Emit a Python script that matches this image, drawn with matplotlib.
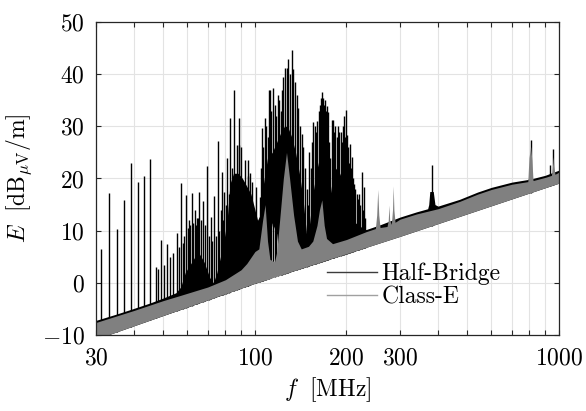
import matplotlib.pyplot as plt
import numpy as np
from matplotlib.lines import Line2D
from matplotlib.ticker import NullFormatter

plt.rcParams['font.family'] = 'serif'
plt.rcParams['font.serif'] = ['cmr10']
plt.rcParams['mathtext.fontset'] = 'cm'
plt.rcParams['axes.unicode_minus'] = True

FS = 17

# lower edge of the measured noise floor (MHz, dB)
floor_f = [30, 100, 300, 1000]
floor_db = [-10.8, -0.1, 8.9, 19.1]

# Half-Bridge: upper edge of the dense part of the trace
hb_f = [30, 35, 40, 45, 50, 55, 57, 59, 62, 65, 68, 71, 73, 75, 77, 79, 81,
        82.8, 85, 88, 91, 94, 97, 100, 102, 104, 106, 108, 110, 114, 118, 122,
        125, 128, 132, 136, 140, 144, 148, 151, 155, 159, 163, 167, 171, 175,
        179, 184, 190, 196, 202, 208, 214, 220, 226, 232, 260, 300, 340, 370,
        373, 376, 386, 391, 400, 471, 540, 600, 700, 790, 800, 812, 820,
        900, 1000]
hb_hi = [-7.2, -6.0, -4.9, -3.9, -2.9, -1.9, -0.8, 2, 4, 6, 4, 1, 0, 2, 5, 8, 12,
         19, 21, 21, 20, 18.5, 17, 14, 12, 13, 18, 21, 24, 25, 27, 29,
         30, 30, 28, 25, 21, 16, 9, 11, 17, 21, 24, 25, 21, 15,
         19, 22, 21, 19, 15, 12.5, 11.5, 11, 10.5, 10.2, 11.2, 12.6, 13.6, 14.2,
         15.0, 17.5, 17.5, 15.0, 14.7, 16.0, 17.4, 18.3, 19.3, 19.8, 20.2, 20.2, 20.0,
         20.6, 21.6]
# stretch where the Half-Bridge trace lifts off the floor
hb_lift_f = [109, 112, 116, 119, 121]
hb_lift_db = [4, 11, 12, 8, 3]

# Half-Bridge: discrete harmonic lines
hb_peak_f = [31.2, 33.0, 35.1, 37.0, 39.1, 41.2, 43.2, 45.2, 47.2, 48.1, 49.2,
             50.1, 51.3, 52.4, 53.8, 55.3, 56.4, 57.1, 58.0, 58.6, 59.2, 60.1,
             60.7, 61.3, 61.9, 62.6, 63.4, 63.9, 64.3, 64.9, 65.5, 66.4, 67.3,
             68.3, 69.4, 70.4, 71.5, 72.4, 73.3, 74.3, 75.4, 76.3, 77.3, 77.8,
             78.3, 79.3, 80.2, 81.1, 82.0, 82.9, 84.1, 85.3, 87.1, 88.3, 88.8,
             90.0, 92.7, 94.7, 95.1, 96.4, 97.6, 100.8, 103.9, 104.5, 105.5,
             106.5, 107.9, 109.0, 110.3, 111.5, 112.1, 113.3, 114.9, 116.2,
             117.5, 118.8, 120.3, 121.6, 122.8, 124.0, 125.6, 127.2, 128.8,
             130.4, 132.1, 133.7, 135.4, 137.1, 138.9, 140.6, 142.5, 144.2,
             146.0, 148.0, 149.5, 150.9, 152.5, 154.0, 155.6, 157.2, 158.7,
             160.3, 162.0, 163.6, 165.0, 166.0, 167.5, 168.8, 170.0, 171.0,
             172.2, 173.2, 174.2, 175.5, 177.0, 178.9, 180.0, 181.0, 182.5,
             184.0, 185.7, 187.5, 189.5, 191.5, 193.5, 195.0, 196.3, 198.0,
             199.3, 200.3, 202.0, 203.5, 205.0, 206.5, 208.1, 210.0, 212.0,
             214.0, 216.0, 218.0, 220.0, 222.0, 224.5, 226.0, 228.4, 230.0,
             382, 807, 934, 958]
hb_peak_db = [6.4, 17.3, 10.3, 15.9, 22.9, 19.4, 20.5, 23.7, 3.1, 2.6, 8.2,
              3.4, 7.4, 5.0, 5.8, 9.6, 6.8, 19.1, 7.6, 9.0, 16.8, 10.5,
              12.0, 11.0, 17.3, 11.5, 14.0, 11.0, 12.4, 12.5, 17.5, 12.0, 15.7,
              11.0, 22.3, 9.0, 12.7, 8.0, 16.6, 9.0, 27.2, 10.0, 14.0, 21.3,
              12.0, 17.5, 15.0, 23.9, 17.0, 31.5, 22.0, 37.0, 26.4, 26.4, 31.5,
              26.1, 23.5, 23.5, 20.4, 21.0, 19.4, 18.4, 16.5, 22.0, 29.6,
              26.0, 31.5, 30.0, 28.0, 37.0, 37.0, 33.0, 37.3, 34.0,
              32.0, 36.0, 35.0, 33.0, 37.0, 39.5, 41.1, 41.1, 43.0,
              40.0, 44.6, 41.0, 38.5, 36.0, 33.5, 30.0, 28.5, 26.0,
              22.0, 18.0, 15.0, 25.1, 22.0, 27.0, 30.9, 30.0, 29.0,
              31.0, 33.0, 34.0, 35.5, 36.6, 35.5, 34.0, 35.0, 33.0,
              33.8, 30.0, 32.8, 27.0, 24.0, 31.2, 27.0, 31.2, 29.0,
              30.0, 28.0, 30.0, 29.0, 29.0, 27.0, 30.0, 31.9, 28.0,
              33.1, 28.3, 26.0, 23.0, 26.7, 22.0, 24.2, 20.0, 19.0,
              18.0, 17.0, 16.0, 17.0, 15.0, 21.3, 14.0, 18.4, 12.5,
              22.6, 27.4, 22.6, 25.6]

# Class-E: upper edge of the trace
ce_f = [30, 40, 50, 57, 70, 80, 90, 94, 100, 103, 106, 108, 110, 112, 116, 118,
        121, 124, 127, 130, 134, 138, 142, 150, 155, 160, 163, 166, 169, 172,
        180, 200, 232, 249, 251.5, 253.5, 255.5, 258, 272, 274.5, 276, 277.5,
        281, 283.5, 285, 286.5, 289, 300, 340, 400, 471, 540, 600, 700, 790,
        797, 807, 815, 822, 900, 945, 955, 958, 962, 970, 1000]
ce_hi = [-7.6, -5.3, -3.4, -2.4, -0.8, 0.6, 2.5, 3.7, 6, 6.5, 12, 15, 8, 4.5, 4, 6,
         13, 20, 25, 20, 13, 8, 6.5, 7, 8, 11, 14, 15.9, 11, 8.5,
         7.5, 8.3, 9.8, 10.4, 13, 17.9, 13, 10.6, 10.8, 12, 14.9, 12,
         11.2, 14, 18.6, 14, 11.6, 12.2, 13.2, 14.2, 15.6, 17.0, 17.9, 18.9, 19.4,
         24, 26.1, 23.5, 19.6, 20.2, 20.6, 23.0, 24.2, 22.5, 20.8, 21.2]


def floor_at(f):
    return np.interp(np.log10(f), np.log10(floor_f), floor_db)


fig = plt.figure(figsize=(5.86, 4.11), dpi=100)
ax = fig.add_axes([0.1638, 0.185, 0.790, 0.7615])

hb_lo = np.maximum(floor_at(hb_f),
                   np.interp(hb_f, hb_lift_f, hb_lift_db, left=-99, right=-99))
ax.fill_between(hb_f, hb_lo, hb_hi, color='k', lw=0, zorder=2)
ax.vlines(hb_peak_f, floor_at(hb_peak_f), hb_peak_db, color='k', lw=1.0, zorder=2)
ax.fill_between(ce_f, floor_at(ce_f), ce_hi, color='#808080', lw=0, zorder=3)

ax.set_xscale('log')
ax.set_xlim(30, 1000)
ax.set_ylim(-10, 50)
ax.set_xticks([30, 100, 200, 300, 1000])
ax.set_xticklabels(['$30$', '$100$', '$200$', '$300$', '$1000$'])
ax.set_xticks([40, 50, 60, 70, 80, 90, 400, 500, 600, 700, 800, 900], minor=True)
ax.xaxis.set_minor_formatter(NullFormatter())
ax.set_yticks(np.arange(-10, 51, 10))
ax.set_yticklabels(['$%d$' % v for v in range(-10, 51, 10)])
ax.tick_params(which='both', direction='in', top=True, right=True,
               length=3.5, width=0.8, labelsize=FS, color='#262626')
ax.tick_params(axis='x', pad=9)
ax.tick_params(axis='y', pad=8)

ax.grid(True, which='major', color='#e3e3e3', lw=0.8)
ax.grid(True, which='minor', axis='x', color='#e3e3e3', lw=0.8)
ax.set_axisbelow(True)
for s in ax.spines.values():
    s.set_linewidth(0.9)
    s.set_color('#262626')
    s.set_zorder(5)

ax.set_xlabel(r'$f\ \ [\mathrm{MHz}]$', fontsize=FS, labelpad=4)
ax.set_ylabel(r'$E\ \ [\mathrm{dB}_{\mu\mathrm{V}}/\mathrm{m}]$', fontsize=FS, labelpad=6)

handles = [Line2D([], [], color='#3c3c3c', lw=1.0),
           Line2D([], [], color='#a0a0a0', lw=1.0)]
ax.legend(handles, ['Half-Bridge', 'Class-E'], loc='lower left',
          bbox_to_anchor=(0.50, 0.085), frameon=False, borderpad=0,
          borderaxespad=0, handlelength=2.1, handletextpad=0.2,
          labelspacing=0.05, fontsize=FS)

fig.savefig('out.png', dpi=100)
